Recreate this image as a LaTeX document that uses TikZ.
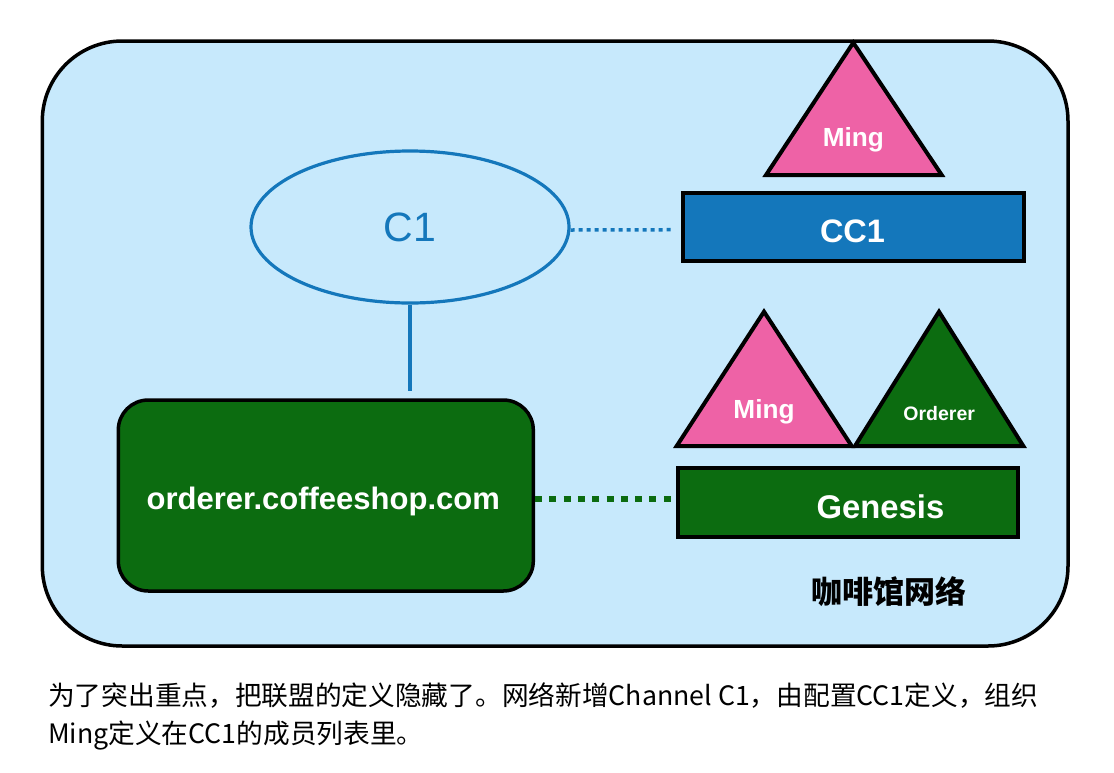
\documentclass[tikz,border=0pt]{standalone}
\usepackage{fontspec}
\setmainfont{Liberation Sans}
\newfontfamily\cjk{Noto Sans CJK SC}
\usetikzlibrary{shapes.geometric}
\definecolor{bgblue}{RGB}{199,233,252}
\definecolor{chblue}{RGB}{20,119,187}
\definecolor{mpink}{RGB}{238,98,166}
\definecolor{ogreen}{RGB}{12,108,16}
\begin{document}
\begin{tikzpicture}[x=1pt,y=-1pt,
  wtxt/.style={anchor=base, text=white, inner sep=0pt, font=\bfseries\fontsize{#1}{#1}\selectfont},
  tri/.style={draw=black, line width=4pt, line join=miter},
  boxed/.style={draw=black, line width=4pt, inner sep=0pt}]
\useasboundingbox (0,0) rectangle (1114,772);
% outer network
\node[draw=black, line width=3.5pt, fill=bgblue, rounded corners=80pt,
      minimum width=1025.7pt, minimum height=605pt, inner sep=0pt] (net) at (555.15,343.5) {};
% channel ellipse
\node[ellipse, draw=chblue, line width=3.2pt, minimum width=318pt, minimum height=152pt,
      inner sep=0pt, text=chblue, font=\fontsize{41}{41}\selectfont] (c1) at (410,227) {C1};
% CC1 config
\node[boxed, fill=chblue, minimum width=341pt, minimum height=68pt] (cc1) at (853.3,226.7) {};
\node[wtxt=32.5] (cc1t) at (852.5,242.7) {CC1};
% triangles
\draw[tri, fill=mpink] (853.3,42.7) -- (941.7,175) -- (766,175) -- cycle;
\node[wtxt=26.2] (ming1) at (853.3,146.7) {Ming};
\draw[tri, fill=mpink] (764,311.7) -- (851.7,446) -- (676.7,446) -- cycle;
\node[wtxt=26.2] (ming2) at (764,418) {Ming};
\draw[tri, fill=ogreen] (939,311.7) -- (1023.3,446) -- (855,446) -- cycle;
\node[wtxt=19.5] (ordt) at (939.2,420.7) {Orderer};
% Genesis
\node[boxed, fill=ogreen, minimum width=340pt, minimum height=68.4pt] (genesis) at (848.3,502.5) {};
\node[wtxt=32.8] (gent) at (880.5,518.3) {Genesis};
% orderer node
\node[draw=black, line width=3.5pt, fill=ogreen, rounded corners=30pt,
      minimum width=415pt, minimum height=191pt, inner sep=0pt] (orderer) at (325.8,495.5) {};
\node[wtxt=31] (ordname) at (323.3,509) {orderer.coffeeshop.com};
% connectors
\draw[chblue, line width=3.2pt, shorten >=7pt] (c1.south) -- (c1.south |- orderer.north);
\draw[chblue, line width=3.5pt, dash pattern=on 4pt off 4pt, shorten >=10pt]
  ([yshift=-3pt]c1.east) -- ([yshift=-3pt]cc1.west);
\coordinate (gl) at ([yshift=-3.5pt]orderer.east);
\draw[ogreen, line width=6.5pt, dash pattern=on 7pt off 7.3pt] (gl) -- (gl -| genesis.west);
% labels
\node[inner sep=0pt, font=\cjk\bfseries\fontsize{31}{31}\selectfont] (netlabel) at (889,591.7) {咖啡馆网络};
\node[anchor=base west, inner sep=0pt, font=\cjk\fontsize{26.7}{26.7}\selectfont] (cap1) at (48,705)
  {为了突出重点，把联盟的定义隐藏了。网络新增Channel C1，由配置CC1定义，组织};
\node[anchor=base west, inner sep=0pt, font=\cjk\fontsize{26.7}{26.7}\selectfont] (cap2) at (48,743)
  {Ming定义在CC1的成员列表里。};
\end{tikzpicture}
\end{document}
